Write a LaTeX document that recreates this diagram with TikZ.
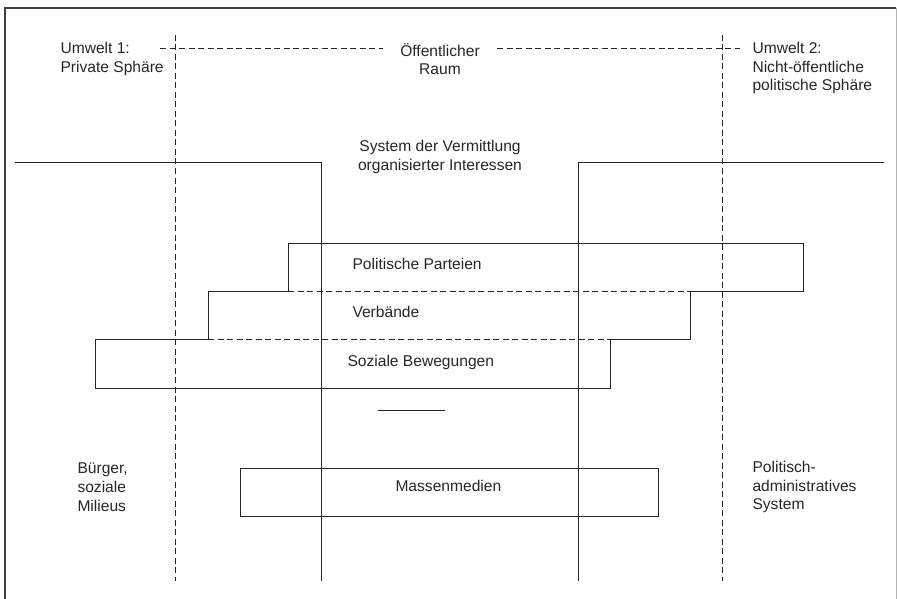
\documentclass[tikz,border=0pt]{standalone}
\usepackage{fontspec}
\setmainfont{Liberation Sans}
\begin{document}
\begin{tikzpicture}[x=1pt,y=-1pt,
  line width=1pt,
  frameline/.style={draw=black!75, line width=1.1pt},
  boundary/.style={draw=black!85, dash pattern=on 6pt off 3.5pt},
  wall/.style={draw=black!85},
  boxline/.style={draw=black!85},
  lbl/.style={inner sep=0pt, font=\fontsize{15.6}{18.8}\selectfont, text=black!85},
]
\useasboundingbox (0,0) rectangle (897,599);

% outer frame
\draw[frameline] (5,599) -- (5,8) -- (896,8);
\draw[draw=black!30, line width=1pt] (896,8) -- (896,599);

% header labels
\node[lbl, anchor=west, align=left] (env1) at (60,59) {Umwelt 1:\\Private Sphäre};
\node[lbl, anchor=center, align=center] (pub) at (440,59) {Öffentlicher\\Raum};
\node[lbl, anchor=west, align=left] (env2) at (752,68) {Umwelt 2:\\Nicht-öffentliche\\politische Sphäre};
\node[lbl, anchor=center, align=center] (sys) at (440,157) {System der Vermittlung\\organisierter Interessen};

% sphere boundaries
\coordinate (b1t) at (175,35);  \coordinate (b1b) at (175,581);
\coordinate (b2t) at (722,35);  \coordinate (b2b) at (722,581);
\draw[boundary] (b1t) -- (b1b);
\draw[boundary] (b2t) -- (b2b);
\coordinate (hl1) at (160,49); \coordinate (hl2) at (383,49);
\coordinate (hr1) at (497,49); \coordinate (hr2) at (740,49);
\draw[boundary] (hl1) -- (hl2);
\draw[boundary] (hr1) -- (hr2);

% intermediary system walls
\coordinate (wl0) at (15,163); \coordinate (wl1) at (321,163); \coordinate (wl2) at (321,581);
\coordinate (wr0) at (884,163); \coordinate (wr1) at (578,163); \coordinate (wr2) at (578,581);
\draw[wall] (wl0) -- (wl1) -- (wl2);
\draw[wall] (wr0) -- (wr1) -- (wr2);

% stepped organisations
\draw[boxline] (288,291) -- (288,243) -- (803,243) -- (803,291) -- (690,291);
\draw[boxline] (208,339) -- (208,291) -- (288,291);
\draw[boxline] (690,291) -- (690,339) -- (610,339);
\draw[boxline] (208,339) -- (95,339) -- (95,388) -- (610,388) -- (610,339);
\draw[boundary] (288,291) -- (690,291);
\draw[boundary] (208,339) -- (610,339);

\node[lbl, anchor=west] (parteien) at (352,264) {Politische Parteien};
\node[lbl, anchor=west] (verbaende) at (352,312) {Verbände};
\node[lbl, anchor=west] (bewegungen) at (347,362) {Soziale Bewegungen};

% separator
\coordinate (s1) at (378,410); \coordinate (s2) at (445,410);
\draw[boxline] (s1) -- (s2);

% mass media
\draw[boxline] (240,468) rectangle (658,516);
\node[lbl, anchor=west] (medien) at (395,486) {Massenmedien};

% side labels
\node[lbl, anchor=west, align=left] (buerger) at (77,487) {Bürger,\\soziale\\Milieus};
\node[lbl, anchor=west, align=left] (pas) at (752,487) {Politisch-\\administratives\\System};
\end{tikzpicture}
\end{document}
